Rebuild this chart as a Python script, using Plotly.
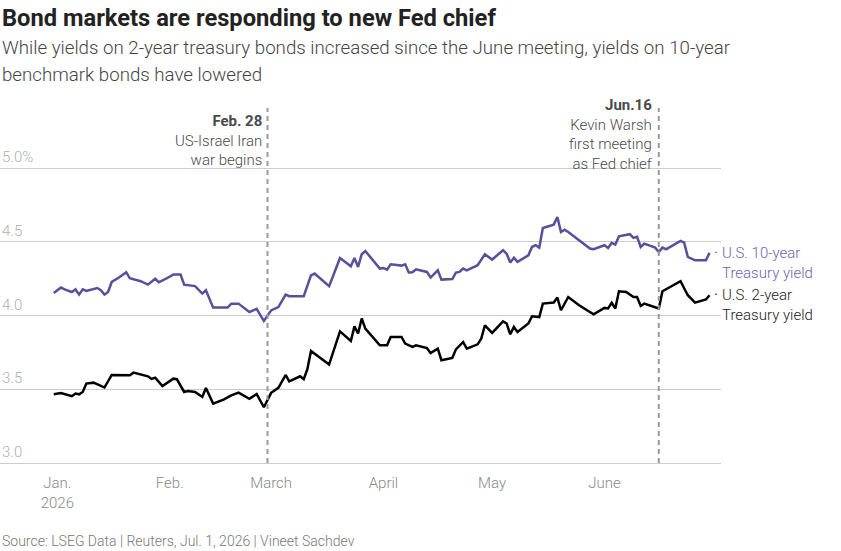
import plotly.graph_objects as go

# ---------------- data ----------------
dates_10y = [
    "2025-12-31", "2026-01-02", "2026-01-03", "2026-01-05", "2026-01-06", "2026-01-07",
    "2026-01-08", "2026-01-09", "2026-01-12", "2026-01-13", "2026-01-14", "2026-01-15",
    "2026-01-16", "2026-01-18", "2026-01-20", "2026-01-21", "2026-01-24", "2026-01-26",
    "2026-01-28", "2026-01-29", "2026-01-31", "2026-02-02", "2026-02-04", "2026-02-05",
    "2026-02-08", "2026-02-10", "2026-02-11", "2026-02-13", "2026-02-17", "2026-02-18",
    "2026-02-20", "2026-02-23", "2026-02-25", "2026-02-27", "2026-03-01", "2026-03-03",
    "2026-03-05", "2026-03-06", "2026-03-10", "2026-03-12", "2026-03-13", "2026-03-17",
    "2026-03-18", "2026-03-20", "2026-03-23", "2026-03-24", "2026-03-25", "2026-03-26",
    "2026-03-27", "2026-03-31", "2026-04-01", "2026-04-02", "2026-04-03", "2026-04-06",
    "2026-04-07", "2026-04-08", "2026-04-09", "2026-04-10", "2026-04-13", "2026-04-14",
    "2026-04-16", "2026-04-17", "2026-04-20", "2026-04-21", "2026-04-22", "2026-04-23",
    "2026-04-24", "2026-04-27", "2026-04-29", "2026-05-01", "2026-05-04", "2026-05-05",
    "2026-05-06", "2026-05-07", "2026-05-08", "2026-05-11", "2026-05-12", "2026-05-13",
    "2026-05-14", "2026-05-15", "2026-05-18", "2026-05-19", "2026-05-20", "2026-05-21",
    "2026-05-22", "2026-05-28", "2026-05-29", "2026-06-01", "2026-06-02", "2026-06-03",
    "2026-06-04", "2026-06-05", "2026-06-08", "2026-06-09", "2026-06-10", "2026-06-11",
    "2026-06-12", "2026-06-15", "2026-06-16", "2026-06-17", "2026-06-18", "2026-06-22",
    "2026-06-23", "2026-06-24", "2026-06-26", "2026-06-29", "2026-06-30",
]
yield_10y = [
    4.153, 4.190, 4.178, 4.160, 4.178, 4.142,
    4.178, 4.167, 4.187, 4.172, 4.142, 4.160,
    4.228, 4.258, 4.294, 4.253, 4.233, 4.210,
    4.250, 4.226, 4.250, 4.278, 4.278, 4.210,
    4.200, 4.149, 4.172, 4.054, 4.054, 4.081,
    4.081, 4.024, 4.045, 3.963, 4.035, 4.058,
    4.142, 4.131, 4.131, 4.273, 4.285, 4.200,
    4.262, 4.391, 4.335, 4.391, 4.330, 4.416,
    4.438, 4.319, 4.323, 4.312, 4.348, 4.339,
    4.348, 4.292, 4.294, 4.314, 4.296, 4.258,
    4.307, 4.244, 4.248, 4.292, 4.296, 4.319,
    4.307, 4.342, 4.416, 4.380, 4.443, 4.420,
    4.360, 4.393, 4.364, 4.409, 4.465, 4.477,
    4.461, 4.594, 4.617, 4.669, 4.567, 4.583,
    4.567, 4.455, 4.450, 4.477, 4.459, 4.493,
    4.482, 4.538, 4.552, 4.527, 4.534, 4.465,
    4.488, 4.461, 4.431, 4.461, 4.450, 4.506,
    4.495, 4.398, 4.375, 4.375, 4.425,
]

dates_2y = [
    "2025-12-31", "2026-01-02", "2026-01-05", "2026-01-06", "2026-01-07", "2026-01-08",
    "2026-01-09", "2026-01-11", "2026-01-14", "2026-01-16", "2026-01-21", "2026-01-22",
    "2026-01-26", "2026-01-27", "2026-01-28", "2026-01-30", "2026-02-02", "2026-02-03",
    "2026-02-05", "2026-02-06", "2026-02-08", "2026-02-10", "2026-02-11", "2026-02-13",
    "2026-02-16", "2026-02-18", "2026-02-20", "2026-02-23", "2026-02-25", "2026-02-27",
    "2026-03-01", "2026-03-03", "2026-03-05", "2026-03-06", "2026-03-09", "2026-03-10",
    "2026-03-11", "2026-03-12", "2026-03-17", "2026-03-20", "2026-03-23", "2026-03-24",
    "2026-03-25", "2026-03-26", "2026-03-27", "2026-03-31", "2026-04-02", "2026-04-03",
    "2026-04-06", "2026-04-07", "2026-04-09", "2026-04-10", "2026-04-13", "2026-04-14",
    "2026-04-16", "2026-04-17", "2026-04-20", "2026-04-21", "2026-04-23", "2026-04-24",
    "2026-04-27", "2026-04-28", "2026-04-29", "2026-05-01", "2026-05-04", "2026-05-05",
    "2026-05-06", "2026-05-07", "2026-05-08", "2026-05-11", "2026-05-12", "2026-05-14",
    "2026-05-15", "2026-05-18", "2026-05-19", "2026-05-20", "2026-05-22", "2026-05-25",
    "2026-05-29", "2026-06-01", "2026-06-02", "2026-06-03", "2026-06-04", "2026-06-05",
    "2026-06-07", "2026-06-09", "2026-06-10", "2026-06-11", "2026-06-12", "2026-06-16",
    "2026-06-17", "2026-06-22", "2026-06-24", "2026-06-26", "2026-06-29", "2026-06-30",
]
yield_2y = [
    3.466, 3.475, 3.453, 3.471, 3.466, 3.482,
    3.539, 3.545, 3.512, 3.597, 3.595, 3.613,
    3.588, 3.570, 3.579, 3.522, 3.572, 3.568,
    3.482, 3.488, 3.482, 3.448, 3.509, 3.403,
    3.432, 3.459, 3.477, 3.435, 3.468, 3.378,
    3.476, 3.510, 3.597, 3.554, 3.588, 3.568,
    3.636, 3.760, 3.668, 3.893, 3.828, 3.927,
    3.878, 3.980, 3.912, 3.798, 3.798, 3.855,
    3.855, 3.810, 3.787, 3.798, 3.780, 3.746,
    3.776, 3.697, 3.712, 3.771, 3.821, 3.776,
    3.805, 3.844, 3.934, 3.882, 3.961, 3.946,
    3.873, 3.923, 3.889, 3.946, 3.995, 3.990,
    4.081, 4.088, 4.122, 4.036, 4.126, 4.070,
    4.009, 4.052, 4.048, 4.086, 4.048, 4.165,
    4.160, 4.126, 4.126, 4.065, 4.081, 4.048,
    4.165, 4.233, 4.138, 4.088, 4.109, 4.138,
]

month_ticks = ["2026-01-01", "2026-02-01", "2026-03-01", "2026-04-01", "2026-05-01", "2026-06-01"]
month_labels = ["Jan.<br>2026", "Feb.", "March", "April", "May", "June"]
y_ticks = [3.0, 3.5, 4.0, 4.5, 5.0]
y_tick_labels = ["3.0", "3.5", "4.0", "4.5", "5.0%"]

events = ["2026-02-28", "2026-06-16"]
event_titles = ["Feb. 28", "Jun.16"]
event_texts = ["US-Israel Iran<br>war begins", "Kevin Warsh<br>first meeting<br>as Fed chief"]

series_names = ["U.S. 10-year<br>Treasury yield", "U.S. 2-year<br>Treasury yield"]

# ---------------- styles ----------------
FONT = "Roboto"
PURPLE = "#5b4e9c"
PURPLE_TXT = "#6f64ab"
BLACK = "#000000"
GRID = "#cccccc"

fig = go.Figure()
fig.add_trace(go.Scatter(x=dates_10y, y=yield_10y, mode="lines",
                         line=dict(color=PURPLE, width=2.5), hoverinfo="skip"))
fig.add_trace(go.Scatter(x=dates_2y, y=yield_2y, mode="lines",
                         line=dict(color=BLACK, width=2.5), hoverinfo="skip"))

for d in events:
    fig.add_shape(type="line", xref="x", yref="paper", x0=d, x1=d, y0=0, y1=1,
                  line=dict(color="#9a9a9a", width=2, dash="5px,4px"), layer="above")

ann = []
# y tick labels above grid lines
for v, t in zip(y_ticks, y_tick_labels):
    ann.append(dict(xref="paper", yref="y", x=0, y=v, text=t, showarrow=False,
                    xanchor="left", yanchor="bottom", yshift=0,
                    font=dict(family=FONT, size=15, color="#b0b0b0", weight=300)))

# event annotations
shifts = [-2, 14]
for d, title, txt, s in zip(events, event_titles, event_texts, shifts):
    ann.append(dict(xref="x", yref="paper", x=d, y=1, yanchor="top", xanchor="right",
                    xshift=-4, yshift=s, showarrow=False, align="right",
                    text=f"<b>{title}</b><br>{txt}",
                    font=dict(family=FONT, size=15, color="#4a4a4a", weight=300)))

# end labels
ends = [(dates_10y[-1], yield_10y[-1], PURPLE_TXT), (dates_2y[-1], yield_2y[-1], "#222222")]
for (d, v, c), name in zip(ends, series_names):
    ann.append(dict(xref="x", yref="y", x=d, y=v, text="·", showarrow=False,
                    xanchor="center", yanchor="middle", xshift=6,
                    font=dict(family=FONT, size=15, color=c)))
    ann.append(dict(xref="x", yref="y", x=d, y=v, text=name, showarrow=False,
                    xanchor="left", yanchor="top", xshift=10, yshift=11, align="left",
                    font=dict(family=FONT, size=15, color=c, weight=300)))

# title / subtitle / source
ann.append(dict(xref="paper", yref="paper", x=0, y=1, xanchor="left", yanchor="middle",
                xshift=0, yshift=108 - 18, showarrow=False,
                text="<b>Bond markets are responding to new Fed chief</b>",
                font=dict(family=FONT, size=23.7, color="#222222")))
sub_lines = ["While yields on 2-year treasury bonds increased since the June meeting, yields on 10-year",
             "benchmark bonds have lowered"]
for i, line in enumerate(sub_lines):
    ann.append(dict(xref="paper", yref="paper", x=0, y=1, xanchor="left", yanchor="middle",
                    yshift=108 - 48 - 27 * i, showarrow=False, text=line,
                    font=dict(family=FONT, size=18.7, color="#444444", weight=300)))
ann.append(dict(xref="paper", yref="paper", x=0, y=0, xanchor="left", yanchor="middle",
                yshift=-(541 - 463), showarrow=False,
                text="Source: LSEG Data | Reuters, Jul. 1, 2026 | Vineet Sachdev",
                font=dict(family=FONT, size=14, color="#777777", weight=300)))

fig.update_layout(
    width=841, height=551,
    margin=dict(l=0, r=120, t=108, b=88),
    paper_bgcolor="white", plot_bgcolor="white",
    showlegend=False,
    annotations=ann,
    xaxis=dict(range=["2025-12-16 04:00", "2026-07-03 04:00"], tickvals=month_ticks,
               ticktext=month_labels, showgrid=False, zeroline=False, ticks="",
               ticklabelstandoff=6,
               showline=True, linecolor=GRID, linewidth=1,
               tickfont=dict(family=FONT, size=15, color="#8a8a8a", weight=300)),
    yaxis=dict(range=[3.0, 5.408], tickvals=y_ticks, showticklabels=False,
               showgrid=True, gridcolor=GRID, gridwidth=1, zeroline=False, ticks=""),
)

fig.write_html("out.html")
